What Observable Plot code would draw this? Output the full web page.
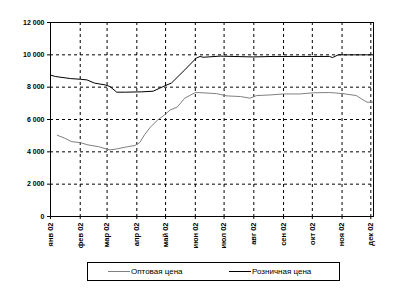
<!DOCTYPE html>
<html>
<head>
<meta charset="utf-8">
<script src="https://cdn.jsdelivr.net/npm/d3@7"></script>
<script src="https://cdn.jsdelivr.net/npm/@observablehq/plot@0.6"></script>
<style>
  html, body { margin: 0; padding: 0; background: #fff; }
  #wrap { position: relative; width: 396px; height: 289px; font-family: "Liberation Sans", Arial, sans-serif; }
  #wrap svg { display: block; }
  #wrap svg g[aria-label$="tick label"] text { font-weight: bold; }
  #legend { position: absolute; left: 87px; top: 262px; width: 253px; height: 19px; box-sizing: border-box;
            border: 1px solid #000; font-size: 8px; color: #000; }
  .item { position: absolute; top: 0; height: 17px; display: flex; align-items: center; }
  .swatch { display: inline-block; width: 22px; height: 0; border-top: 1px solid; margin-right: 1px; }
</style>
</head>
<body>
<div id="wrap"></div>
<script>
const monthLabels = ["янв 02","фев 02","мар 02","апр 02","май 02","июн 02","июл 02","авг 02","сен 02","окт 02","ноя 02","дек 02"];
const yTicks = [0, 2000, 4000, 6000, 8000, 10000, 12000];
const seriesNames = ["Оптовая цена", "Розничная цена"];

const wholesaleDates = ["2002-01-08","2002-01-16","2002-01-23","2002-02-01","2002-02-09","2002-02-20","2002-03-01","2002-03-04","2002-03-11","2002-03-20","2002-03-30","2002-04-04","2002-04-09","2002-04-15","2002-04-23","2002-04-30","2002-05-06","2002-05-13","2002-05-21","2002-06-01","2002-06-09","2002-06-23","2002-07-04","2002-07-18","2002-07-28","2002-08-04","2002-08-18","2002-09-01","2002-09-18","2002-10-02","2002-10-19","2002-11-02","2002-11-16","2002-11-23","2002-11-27","2002-12-03"];
const wholesaleValues = [5030,4840,4630,4570,4430,4320,4160,4120,4180,4290,4390,4570,5050,5520,5980,6290,6600,6760,7320,7670,7650,7600,7460,7420,7320,7480,7520,7580,7580,7650,7670,7600,7480,7210,7070,7070];

const retailDates = ["2002-01-01","2002-01-06","2002-01-22","2002-02-01","2002-02-08","2002-02-16","2002-02-27","2002-03-04","2002-03-11","2002-03-20","2002-04-06","2002-04-18","2002-04-25","2002-04-30","2002-05-07","2002-05-21","2002-06-02","2002-06-06","2002-06-09","2002-06-27","2002-07-31","2002-08-21","2002-10-19","2002-10-22","2002-10-28","2002-12-03"];
const retailValues = [8750,8660,8530,8490,8450,8250,8140,8040,7690,7690,7710,7750,7940,8080,8250,9070,9800,9900,9850,9920,9870,9900,9900,9830,10000,10000];

const parse = s => new Date(s + "T00:00:00Z");
const wholesale = wholesaleDates.map((d, i) => ({date: parse(d), value: wholesaleValues[i]}));
const retail = retailDates.map((d, i) => ({date: parse(d), value: retailValues[i]}));
const monthTicks = monthLabels.map((_, i) => new Date(Date.UTC(2002, i, 1)));

const fmt = d => d3.format(",")(d).replace(/,/g, " ");

const chart = Plot.plot({
  width: 396,
  height: 289,
  marginTop: 22,
  marginBottom: 73,
  marginLeft: 50,
  marginRight: 23,
  style: {fontFamily: "'Liberation Sans', Arial, sans-serif", fontSize: "7px", background: "#fff", color: "#000"},
  x: {type: "utc", domain: [new Date(Date.UTC(2002, 0, 1)), new Date(Date.UTC(2002, 11, 3, 19))]},
  y: {domain: [0, 12000]},
  marks: [
    Plot.gridY(yTicks.slice(1, -1), {stroke: "#000", strokeOpacity: 1, strokeDasharray: "3,3"}),
    Plot.gridX(monthTicks.slice(1), {stroke: "#000", strokeOpacity: 1, strokeDasharray: "3,3"}),
    Plot.axisY({ticks: yTicks, tickFormat: fmt, tickSize: 3, tickPadding: 3, label: null, fontSize: 7}),
    Plot.axisX({ticks: monthTicks, tickFormat: d => monthLabels[d.getUTCMonth()], tickRotate: -90, tickSize: 3, tickPadding: 3, label: null, fontSize: 7.5}),
    Plot.line(wholesale, {x: "date", y: "value", stroke: "#808080", strokeWidth: 1}),
    Plot.line(retail, {x: "date", y: "value", stroke: "#000", strokeWidth: 1}),
    Plot.frame({stroke: "#000"})
  ]
});

const wrap = document.getElementById("wrap");
wrap.appendChild(chart);

const legend = document.createElement("div");
legend.id = "legend";
const items = [{name: seriesNames[0], color: "#808080", left: 20}, {name: seriesNames[1], color: "#000", left: 141}];
for (const it of items) {
  const el = document.createElement("div");
  el.className = "item";
  el.style.left = it.left + "px";
  const sw = document.createElement("span");
  sw.className = "swatch";
  sw.style.borderTopColor = it.color;
  const tx = document.createElement("span");
  tx.textContent = it.name;
  el.appendChild(sw);
  el.appendChild(tx);
  legend.appendChild(el);
}
wrap.appendChild(legend);
</script>
</body>
</html>
